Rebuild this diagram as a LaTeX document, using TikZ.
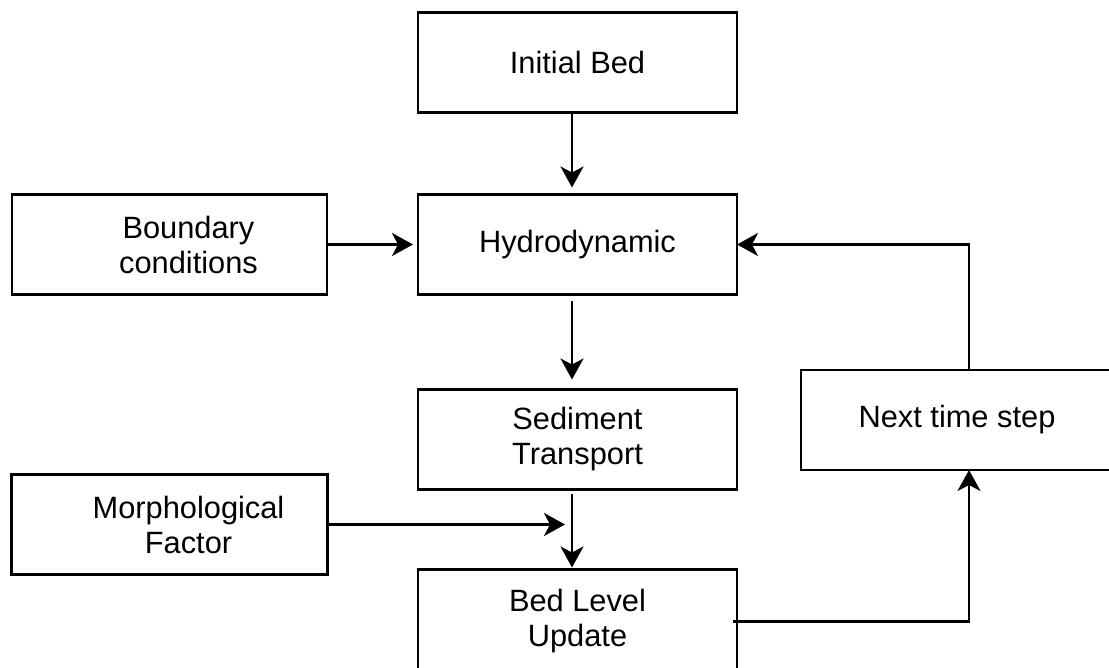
\documentclass[tikz,border=0pt]{standalone}
\usepackage{fontspec}
\setmainfont{Liberation Sans}
\usetikzlibrary{arrows.meta,positioning}

\begin{document}
\begin{tikzpicture}[x=0.5pt,y=-0.5pt,node distance=41pt and 45.5pt,
 every node/.style={font=\fontsize{15.4}{17.5}\selectfont},
 blk/.style={draw,line width=1.3pt,minimum width=159.5pt,minimum height=50pt,align=center,inner sep=0pt,outer sep=0pt},
 arr/.style={line width=1.3pt,-{Stealth[length=10.5pt,width=11.5pt,inset=3pt]}}]
\useasboundingbox (0,0) rectangle (1109,668);
\node[blk] (init) at (577.5,62.5) {Initial Bed};
\node[blk,below=of init] (hydro) {Hydrodynamic};
\node[blk,minimum width=157.5pt,left=of hydro] (bound) {\hspace*{19pt}Boundary\\\hspace*{19pt}conditions};
\node[blk,below=47.5pt of hydro] (sed) {Sediment\\Transport};
\node[blk,below=40pt of sed,minimum height=52pt] (bed) {Bed Level\\Update};
\node[blk,minimum width=158pt,below=90pt of bound] (morph) {\hspace*{19pt}Morphological\\\hspace*{19pt}Factor};
\node[blk,minimum width=156pt,right=32pt of sed,yshift=9.75pt] (next) {Next time step};
\coordinate (spine) at (572,0);
\coordinate (loop) at (969,0);
\draw[arr,shorten >=3.5pt] (init.south -| spine) -- (hydro.north -| spine);
\draw[arr,shorten >=2.5pt] (bound.east) -- (hydro.west);
\draw[arr,shorten <=3.5pt,shorten >=5pt] (hydro.south -| spine) -- (sed.north -| spine);
\draw[arr,shorten <=2pt,shorten >=1pt] (sed.south -| spine) -- (bed.north -| spine);
\draw[arr,shorten >=3.5pt] (morph.east) -- (morph.east -| spine);
\draw[arr] (next.north -| loop) |- (hydro.east);
\draw[arr] ([xshift=-2pt]bed.east) -| (next.south -| loop);
\end{tikzpicture}
\end{document}
